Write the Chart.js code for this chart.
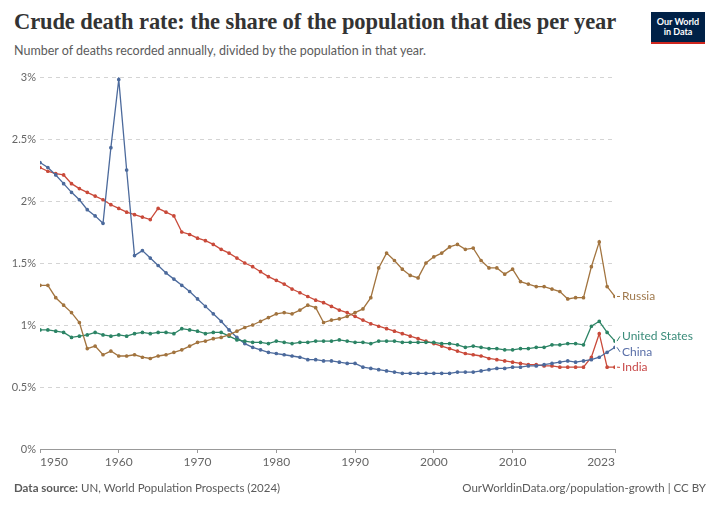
<!DOCTYPE html>
<html>
<head>
<meta charset="utf-8">
<script src="https://cdn.jsdelivr.net/npm/chart.js@4.4.1/dist/chart.umd.min.js"></script>
<style>
  html, body { margin: 0; padding: 0; background: #fff; }
  body { width: 720px; height: 507px; position: relative; overflow: hidden; font-family: Lato, "Noto Sans", sans-serif; }
  #title { position: absolute; left: 14px; top: 9px; font-family: "Liberation Serif", "DejaVu Serif", serif; font-weight: bold; font-size: 22.5px; color: #333; white-space: nowrap; letter-spacing: -0.1px; }
  #subtitle { position: absolute; left: 14px; top: 43px; font-size: 12.5px; color: #5b5b5b; white-space: nowrap; }
  #logo { position: absolute; left: 651px; top: 12px; width: 54px; height: 32px; background: #002147; border-bottom: 2px solid #ce261e; color: #fff; font-size: 9px; line-height: 10px; text-align: center; padding-top: 5px; box-sizing: border-box; font-weight: bold; }
  #footer-left { position: absolute; left: 14px; top: 481px; font-size: 11.5px; color: #5b5b5b; white-space: nowrap; }
  #footer-right { position: absolute; right: 14px; top: 481px; font-size: 11.5px; color: #5b5b5b; white-space: nowrap; }
  #wrap { position: absolute; left: 0; top: 0; width: 720px; height: 507px; }
</style>
</head>
<body>
<div id="title">Crude death rate: the share of the population that dies per year</div>
<div id="subtitle">Number of deaths recorded annually, divided by the population in that year.</div>
<div id="logo">Our World<br>in Data</div>
<div id="wrap"><canvas id="chart" width="720" height="507"></canvas></div>
<div id="footer-left"><b>Data source:</b> UN, World Population Prospects (2024)</div>
<div id="footer-right">OurWorldinData.org/population-growth | CC BY</div>
<script>
const years = [
  1950, 1951, 1952, 1953, 1954, 1955, 1956, 1957, 1958, 1959,
  1960, 1961, 1962, 1963, 1964, 1965, 1966, 1967, 1968, 1969,
  1970, 1971, 1972, 1973, 1974, 1975, 1976, 1977, 1978, 1979,
  1980, 1981, 1982, 1983, 1984, 1985, 1986, 1987, 1988, 1989,
  1990, 1991, 1992, 1993, 1994, 1995, 1996, 1997, 1998, 1999,
  2000, 2001, 2002, 2003, 2004, 2005, 2006, 2007, 2008, 2009,
  2010, 2011, 2012, 2013, 2014, 2015, 2016, 2017, 2018, 2019,
  2020, 2021, 2022, 2023
];

// crude death rate, % of population
const russia = [
  1.32, 1.32, 1.22, 1.16, 1.10, 1.02, 0.81, 0.83, 0.76, 0.79,
  0.75, 0.75, 0.76, 0.74, 0.73, 0.75, 0.76, 0.78, 0.80, 0.83,
  0.86, 0.87, 0.89, 0.90, 0.92, 0.95, 0.98, 1.00, 1.03, 1.06,
  1.09, 1.10, 1.09, 1.12, 1.16, 1.14, 1.02, 1.04, 1.05, 1.07,
  1.10, 1.13, 1.22, 1.46, 1.58, 1.52, 1.45, 1.40, 1.38, 1.50,
  1.55, 1.58, 1.63, 1.65, 1.61, 1.62, 1.52, 1.46, 1.46, 1.41,
  1.45, 1.35, 1.33, 1.31, 1.31, 1.29, 1.27, 1.21, 1.22, 1.22,
  1.47, 1.67, 1.31, 1.23
];
const unitedStates = [
  0.96, 0.96, 0.95, 0.94, 0.90, 0.91, 0.92, 0.94, 0.92, 0.91,
  0.92, 0.91, 0.93, 0.94, 0.93, 0.94, 0.94, 0.93, 0.97, 0.96,
  0.95, 0.93, 0.94, 0.94, 0.91, 0.88, 0.87, 0.86, 0.86, 0.85,
  0.87, 0.86, 0.85, 0.86, 0.86, 0.87, 0.87, 0.87, 0.88, 0.87,
  0.86, 0.86, 0.85, 0.87, 0.87, 0.87, 0.86, 0.86, 0.86, 0.86,
  0.86, 0.85, 0.85, 0.84, 0.82, 0.83, 0.82, 0.81, 0.81, 0.80,
  0.80, 0.81, 0.81, 0.82, 0.82, 0.84, 0.84, 0.85, 0.85, 0.84,
  0.99, 1.03, 0.94, 0.87
];
const china = [
  2.31, 2.27, 2.21, 2.14, 2.07, 2.01, 1.93, 1.88, 1.82, 2.43,
  2.98, 2.25, 1.56, 1.60, 1.54, 1.48, 1.42, 1.37, 1.32, 1.27,
  1.21, 1.15, 1.09, 1.03, 0.96, 0.90, 0.85, 0.82, 0.80, 0.78,
  0.77, 0.76, 0.75, 0.74, 0.72, 0.72, 0.71, 0.71, 0.70, 0.69,
  0.69, 0.66, 0.65, 0.64, 0.63, 0.62, 0.61, 0.61, 0.61, 0.61,
  0.61, 0.61, 0.61, 0.62, 0.62, 0.62, 0.63, 0.64, 0.65, 0.65,
  0.66, 0.66, 0.67, 0.67, 0.68, 0.69, 0.70, 0.71, 0.70, 0.71,
  0.72, 0.74, 0.78, 0.82
];
const india = [
  2.27, 2.24, 2.22, 2.21, 2.14, 2.10, 2.07, 2.04, 2.01, 1.97,
  1.94, 1.91, 1.89, 1.87, 1.85, 1.94, 1.91, 1.88, 1.75, 1.73,
  1.70, 1.68, 1.65, 1.61, 1.58, 1.54, 1.50, 1.47, 1.43, 1.39,
  1.36, 1.33, 1.29, 1.26, 1.23, 1.20, 1.18, 1.15, 1.12, 1.10,
  1.07, 1.04, 1.01, 0.99, 0.97, 0.95, 0.93, 0.91, 0.89, 0.87,
  0.85, 0.83, 0.81, 0.79, 0.77, 0.76, 0.75, 0.73, 0.72, 0.71,
  0.70, 0.69, 0.68, 0.68, 0.67, 0.67, 0.66, 0.66, 0.66, 0.66,
  0.74, 0.93, 0.66, 0.66
];

const xTicks = [1950, 1960, 1970, 1980, 1990, 2000, 2010, 2023];
const yTicks = [0, 0.5, 1, 1.5, 2, 2.5, 3];

const series = [
  { name: "Russia", values: russia, color: "#a2743f", text: "#a07a4e" },
  { name: "United States", values: unitedStates, color: "#2c8465", text: "#3a8c7a" },
  { name: "China", values: china, color: "#4c6a9c", text: "#5a6fa8" },
  { name: "India", values: india, color: "#c94a3a", text: "#c84a4a" },
];

// labels at the right end of each line, pushed apart so they don't overlap
const endLabels = {
  id: "endLabels",
  afterDatasetsDraw(chart) {
    const ctx = chart.ctx;
    const area = chart.chartArea;
    const items = chart.data.datasets.map((ds, i) => {
      const pt = chart.getDatasetMeta(i).data[ds.data.length - 1];
      return { ds, px: pt.x, py: pt.y, y: pt.y };
    });
    items.sort((a, b) => a.py - b.py);
    const gap = 15.5;
    // relax: move overlapping neighbours apart symmetrically
    for (let k = 0; k < 20; k++) {
      for (let i = 1; i < items.length; i++) {
        const d = items[i].y - items[i - 1].y;
        if (d < gap) {
          const push = (gap - d) / 2;
          items[i].y += push;
          items[i - 1].y -= push;
        }
      }
    }
    ctx.save();
    ctx.font = "12px Lato, 'Noto Sans', sans-serif";
    ctx.textBaseline = "middle";
    items.forEach(it => {
      const lx = area.right + 7;
      ctx.strokeStyle = it.ds.borderColor;
      ctx.lineWidth = 1;
      ctx.beginPath();
      ctx.moveTo(it.px + 2, it.py);
      ctx.lineTo(lx - 2, it.y);
      ctx.stroke();
      ctx.fillStyle = it.ds.labelColor;
      ctx.fillText(it.ds.label, lx, it.y);
    });
    ctx.restore();
  }
};

new Chart(document.getElementById("chart"), {
  type: "line",
  data: {
    datasets: series.map(s => ({
      label: s.name,
      data: years.map((yr, i) => ({ x: yr, y: s.values[i] })),
      borderColor: s.color,
      backgroundColor: s.color,
      labelColor: s.text,
      borderWidth: 1.3,
      pointRadius: 1.2,
      pointHoverRadius: 1.2,
      tension: 0,
    })),
  },
  options: {
    responsive: false,
    animation: false,
    layout: { padding: { top: 77, right: 105, bottom: 34, left: 0 } },
    plugins: {
      legend: { display: false },
      tooltip: { enabled: false },
    },
    scales: {
      x: {
        type: "linear",
        min: 1950,
        max: 2023,
        afterBuildTicks(scale) {
          scale.ticks = xTicks.map(v => ({ value: v }));
        },
        afterFit(scale) {
          scale.height = 24;
        },
        grid: {
          drawOnChartArea: false,
          drawTicks: true,
          tickLength: 4,
          color: "#999",
        },
        border: { color: "#999" },
        ticks: {
          autoSkip: false,
          maxRotation: 0,
          align: "inner",
          padding: 2,
          color: "#666",
          font: { family: "Lato", size: 12 },
          callback: v => String(v),
        },
      },
      y: {
        min: 0,
        max: 3,
        afterBuildTicks(scale) {
          scale.ticks = yTicks.map(v => ({ value: v }));
        },
        afterFit(scale) {
          scale.width = 40;
        },
        grid: {
          drawTicks: false,
          color: ctx => (ctx.tick && ctx.tick.value === 0 ? "rgba(0,0,0,0)" : "#d4d4d4"),
          lineWidth: 1,
        },
        border: { display: false, dash: [4, 4] },
        ticks: {
          padding: 4,
          color: "#666",
          font: { family: "Lato", size: 11 },
          callback: v => v + "%",
        },
      },
    },
  },
  plugins: [endLabels],
});
</script>
</body>
</html>
